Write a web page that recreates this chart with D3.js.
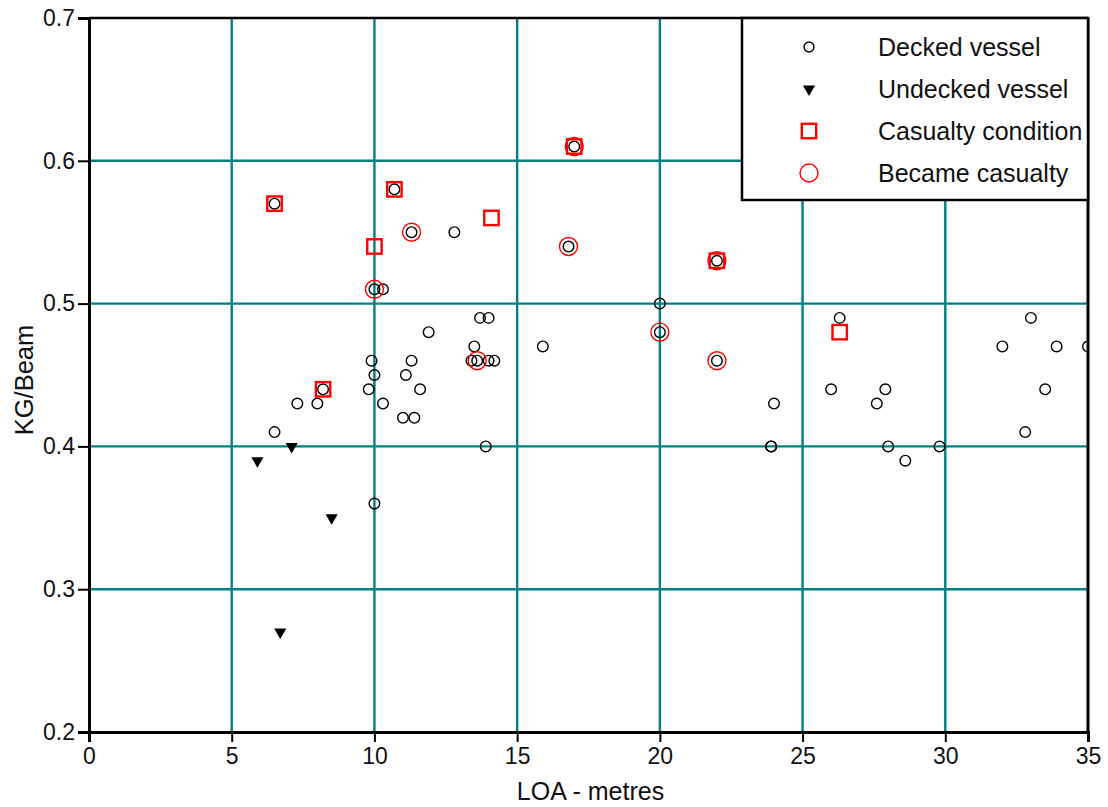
<!DOCTYPE html>
<html>
<head>
<meta charset="utf-8">
<script src="https://cdn.jsdelivr.net/npm/d3@7"></script>
<style>
  html, body { margin: 0; padding: 0; background: #fff; }
  svg { display: block; font-family: Arial, "Liberation Sans", sans-serif; }
</style>
</head>
<body>
<svg id="chart" width="1108" height="807"></svg>
<script>
// KG/Beam ratio against length overall, one [LOA, KG/Beam] pair per vessel
const deckedVessels = [
  [6.5, 0.57], [10.7, 0.58], [17.0, 0.61], [22.0, 0.53], [11.3, 0.55], [12.8, 0.55],
  [16.8, 0.54], [10.0, 0.51], [10.3, 0.51], [20.0, 0.50], [13.7, 0.49], [14.0, 0.49],
  [26.3, 0.49], [33.0, 0.49], [11.9, 0.48], [20.0, 0.48], [13.5, 0.47], [15.9, 0.47],
  [32.0, 0.47], [33.9, 0.47], [35.0, 0.47], [9.9, 0.46], [11.3, 0.46], [13.4, 0.46],
  [13.6, 0.46], [14.0, 0.46], [14.2, 0.46], [22.0, 0.46], [10.0, 0.45], [11.1, 0.45],
  [8.2, 0.44], [9.8, 0.44], [11.6, 0.44], [26.0, 0.44], [27.9, 0.44], [33.5, 0.44],
  [7.3, 0.43], [8.0, 0.43], [10.3, 0.43], [24.0, 0.43], [27.6, 0.43], [11.0, 0.42],
  [11.4, 0.42], [6.5, 0.41], [32.8, 0.41], [13.9, 0.40], [23.9, 0.40], [23.9, 0.40],
  [28.0, 0.40], [29.8, 0.40], [28.6, 0.39], [10.0, 0.36]
];
const undeckedVessels = [[5.9, 0.39], [7.1, 0.40], [8.5, 0.35], [6.7, 0.27]];
const casualtyCondition = [
  [6.5, 0.57], [10.7, 0.58], [10.0, 0.54], [14.1, 0.56],
  [17.0, 0.61], [22.0, 0.53], [8.2, 0.44], [26.3, 0.48]
];
const becameCasualty = [
  [11.3, 0.55], [16.8, 0.54], [10.0, 0.51], [20.0, 0.48],
  [13.6, 0.46], [22.0, 0.46], [22.0, 0.53], [17.0, 0.61]
];

const xTicks = [0, 5, 10, 15, 20, 25, 30, 35];
const yTicks = [0.2, 0.3, 0.4, 0.5, 0.6, 0.7];
const legendLabels = ["Decked vessel", "Undecked vessel", "Casualty condition", "Became casualty"];
const xTitle = "LOA - metres";
const yTitle = "KG/Beam";

const svg = d3.select("#chart");
const plotLeft = 89, plotRight = 1088, plotTop = 18, plotBottom = 732;
const teal = "#008080";

const x = d3.scaleLinear().domain([0, 35]).range([plotLeft, plotRight]);
const y = d3.scaleLinear().domain([0.2, 0.7]).range([plotBottom, plotTop]);

// grid
const grid = svg.append("g");
grid.selectAll("line.gx").data(xTicks.slice(1, -1)).join("line")
  .attr("x1", d => x(d)).attr("x2", d => x(d))
  .attr("y1", plotTop).attr("y2", plotBottom)
  .attr("stroke", teal).attr("stroke-width", 2.4);
grid.selectAll("line.gy").data(yTicks.slice(1, -1)).join("line")
  .attr("x1", plotLeft).attr("x2", plotRight)
  .attr("y1", d => y(d)).attr("y2", d => y(d))
  .attr("stroke", teal).attr("stroke-width", 2.4);

// frame (top and right)
svg.append("line").attr("x1", plotLeft).attr("x2", plotRight).attr("y1", plotTop).attr("y2", plotTop)
  .attr("stroke", "#000").attr("stroke-width", 2.5);
svg.append("line").attr("x1", plotRight).attr("x2", plotRight).attr("y1", plotTop).attr("y2", plotBottom)
  .attr("stroke", "#000").attr("stroke-width", 3);

// axes
const yAxis = svg.append("g").attr("transform", `translate(${plotLeft},0)`)
  .call(d3.axisLeft(y).tickValues(yTicks).tickFormat(d3.format(".1f")).tickSize(11).tickPadding(3));
const xAxis = svg.append("g").attr("transform", `translate(0,${plotBottom})`)
  .call(d3.axisBottom(x).tickValues(xTicks).tickFormat(d3.format("d")).tickSize(10).tickPadding(6));
[xAxis, yAxis].forEach(g => {
  g.select(".domain").attr("stroke", "#000").attr("stroke-width", 3);
  g.selectAll(".tick line").attr("stroke", "#000").attr("stroke-width", 2);
  g.selectAll(".tick text").attr("fill", "#111").attr("font-size", 23)
    .attr("font-family", "Arial, 'Liberation Sans', sans-serif");
});

// axis titles
svg.append("text").attr("x", (plotLeft + plotRight) / 2 + 2).attr("y", 800)
  .attr("text-anchor", "middle").attr("font-size", 25).attr("fill", "#111").text(xTitle);
svg.append("text").attr("transform", `translate(33,380) rotate(-90)`)
  .attr("text-anchor", "middle").attr("font-size", 25.5).attr("fill", "#111").text(yTitle);

// markers
svg.append("clipPath").attr("id", "plotClip").append("rect")
  .attr("x", plotLeft).attr("y", plotTop).attr("width", plotRight - plotLeft - 1.5).attr("height", plotBottom - plotTop);
const marks = svg.append("g").attr("clip-path", "url(#plotClip)");

const tri = d3.symbol().type(d3.symbolTriangle).size(64);

function drawDecked(g, cx, cy) {
  g.append("circle").attr("cx", cx).attr("cy", cy).attr("r", 5.3)
    .attr("fill", "none").attr("stroke", "#000").attr("stroke-width", 1.4);
}
function drawUndecked(g, cx, cy) {
  g.append("path").attr("d", tri).attr("transform", `translate(${cx},${cy}) rotate(180)`)
    .attr("fill", "#000");
}
function drawSquare(g, cx, cy) {
  g.append("rect").attr("x", cx - 7.2).attr("y", cy - 7.2).attr("width", 14.4).attr("height", 14.4)
    .attr("fill", "none").attr("stroke", "#f00").attr("stroke-width", 2.4);
}
function drawRing(g, cx, cy) {
  g.append("circle").attr("cx", cx).attr("cy", cy).attr("r", 9)
    .attr("fill", "none").attr("stroke", "#f00").attr("stroke-width", 1.4);
}

deckedVessels.forEach(d => drawDecked(marks, x(d[0]), y(d[1])));
undeckedVessels.forEach(d => drawUndecked(marks, x(d[0]), y(d[1])));
casualtyCondition.forEach(d => drawSquare(marks, x(d[0]), y(d[1])));
becameCasualty.forEach(d => drawRing(marks, x(d[0]), y(d[1])));

// legend
const lg = svg.append("g");
lg.append("rect").attr("x", 742).attr("y", 18).attr("width", 346).attr("height", 182)
  .attr("fill", "#fff").attr("stroke", "#000").attr("stroke-width", 2.5);
const drawers = [drawDecked, drawUndecked, drawSquare, drawRing];
legendLabels.forEach((label, i) => {
  const cy = 47 + i * 42;
  if (i === 0) {
    lg.append("circle").attr("cx", 809).attr("cy", cy).attr("r", 5)
      .attr("fill", "none").attr("stroke", "#000").attr("stroke-width", 1.4);
  } else {
    drawers[i](lg, 809, cy);
  }
  lg.append("text").attr("x", 878).attr("y", cy + 8.5).attr("font-size", 25)
    .attr("fill", "#111").text(label);
});
</script>
</body>
</html>
